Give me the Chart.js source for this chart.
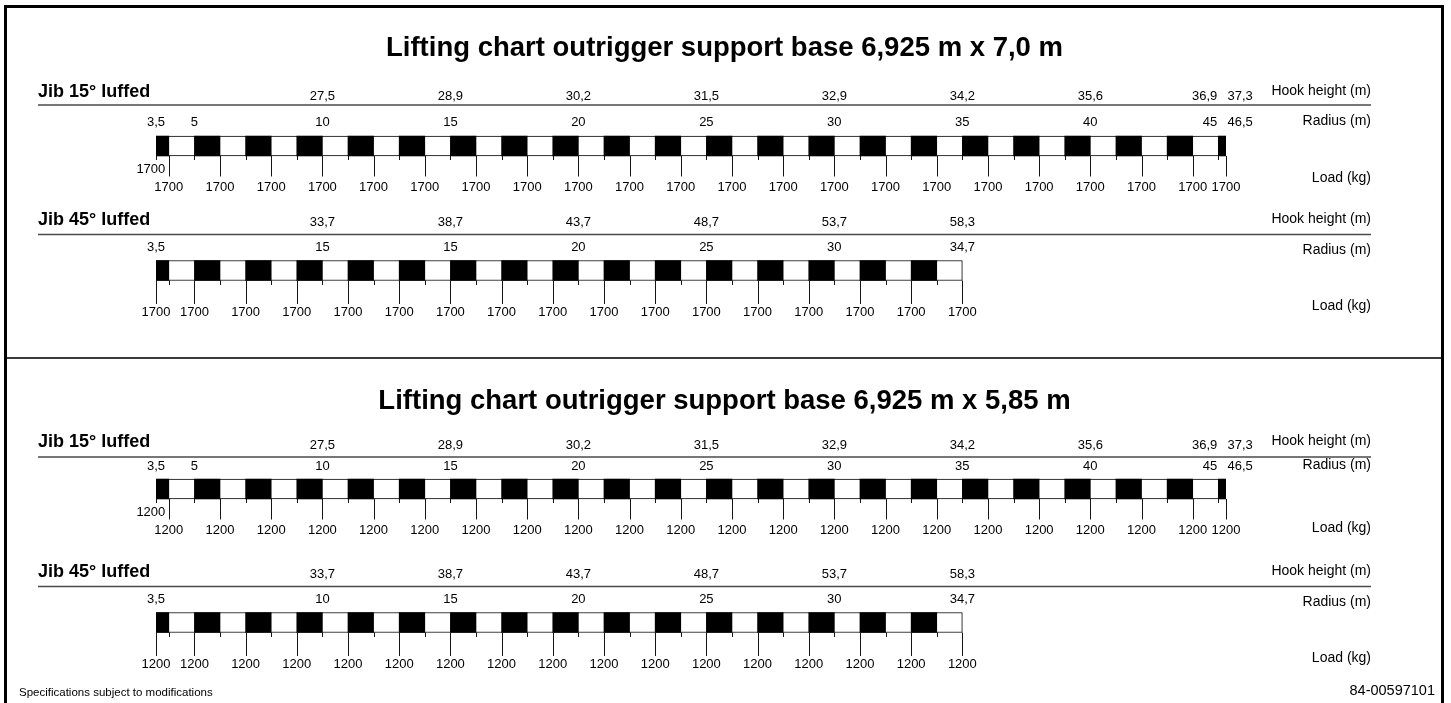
<!DOCTYPE html>
<html>
<head>
<meta charset="utf-8">
<script src="https://cdn.jsdelivr.net/npm/chart.js@4/dist/chart.umd.min.js"></script>
<style>
html,body{margin:0;padding:0;background:#fff;width:1451px;height:703px;overflow:hidden;}
#frame{position:absolute;left:4px;top:5px;width:1434px;height:720px;border:3px solid #000;border-bottom:none;}
#sep{position:absolute;left:7px;top:357px;width:1434px;height:0;border-top:2px solid #3a3a3a;}
canvas.sheet{position:absolute;left:0;}
</style>
</head>
<body>
<div id="frame"></div>
<div id="sep"></div>
<canvas id="c1" class="sheet" width="1451" height="352" style="top:0px"></canvas>
<canvas id="c2" class="sheet" width="1451" height="351" style="top:352px"></canvas>
<script>
// ================= DATA =================
const TITLES = [
  'Lifting chart outrigger support base 6,925 m x 7,0 m',
  'Lifting chart outrigger support base 6,925 m x 5,85 m'
];
const JIB_NAMES = ['Jib 15° luffed', 'Jib 45° luffed'];
const ROW_TITLES = ['Hook height (m)', 'Radius (m)', 'Load (kg)'];
const FOOTER_LEFT = 'Specifications subject to modifications';
const FOOTER_RIGHT = '84-00597101';

// Jib 15° luffed
const JIB15_RADIUS = [3.5, 5, 10, 15, 20, 25, 30, 35, 40, 45, 46.5];
const JIB15_HOOK_AT = [10, 15, 20, 25, 30, 35, 40, 45, 46.5];
const JIB15_HOOK = [27.5, 28.9, 30.2, 31.5, 32.9, 34.2, 35.6, 36.9, 37.3];
const JIB15_LOAD_AT = [3.5, 4, 6, 8, 10, 12, 14, 16, 18, 20, 22, 24, 26, 28, 30, 32, 34, 36, 38, 40, 42, 44, 46.5];
const JIB15_LOAD_BASE_A = [1700, 1700, 1700, 1700, 1700, 1700, 1700, 1700, 1700, 1700, 1700, 1700, 1700, 1700, 1700, 1700, 1700, 1700, 1700, 1700, 1700, 1700, 1700];
const JIB15_LOAD_BASE_B = [1200, 1200, 1200, 1200, 1200, 1200, 1200, 1200, 1200, 1200, 1200, 1200, 1200, 1200, 1200, 1200, 1200, 1200, 1200, 1200, 1200, 1200, 1200];

// Jib 45° luffed
const JIB45_RADIUS = [3.5, 10, 15, 20, 25, 30, 34.7];
const JIB45_RADIUS_TEXT_A = ['3,5', '15', '15', '20', '25', '30', '34,7'];   // as printed
const JIB45_RADIUS_TEXT_B = ['3,5', '10', '15', '20', '25', '30', '34,7'];
const JIB45_HOOK_AT = [10, 15, 20, 25, 30, 34.7];
const JIB45_HOOK = [33.7, 38.7, 43.7, 48.7, 53.7, 58.3];
const JIB45_LOAD_AT = [3.5, 5, 7, 9, 11, 13, 15, 17, 19, 21, 23, 25, 27, 29, 31, 33, 34.7];
const JIB45_LOAD_BASE_A = [1700, 1700, 1700, 1700, 1700, 1700, 1700, 1700, 1700, 1700, 1700, 1700, 1700, 1700, 1700, 1700, 1700];
const JIB45_LOAD_BASE_B = [1200, 1200, 1200, 1200, 1200, 1200, 1200, 1200, 1200, 1200, 1200, 1200, 1200, 1200, 1200, 1200, 1200];

// ================= LAYOUT / STYLE =================
const FONT = '"Liberation Sans", Arial, Helvetica, sans-serif';
const OFF15 = {heading:-54, hook:-49.5, hookLabel:-54.5, rule:-41, radius:-24, radiusLabel:-25,
               half:10, shortTick:14, longTick:30.5, inset:23, load:41, loadLabel:32};
const OFF15_B = Object.assign({}, OFF15, {heading:-47, hook:-44, hookLabel:-48, rule:-32, radius:-23,
               radiusLabel:-24, loadLabel:39});
const OFF45 = {heading:-50, hook:-48, hookLabel:-51, rule:-36, radius:-23, radiusLabel:-20,
               half:10, shortTick:14.5, longTick:33.5, inset:23, load:42, loadLabel:35.5};
const SQUEEZE15 = {from:45, factor:0.2};
const SQUEEZE45 = {from:34, factor:1/0.7};

// custom linear scale: compresses/stretches the last (partial) metre of the schematic ruler
class SchematicScale extends Chart.LinearScale {
  getPixelForValue(v) {
    const s = this.options.squeeze;
    if (s && v > s.from) v = s.from + (v - s.from) * s.factor;
    return super.getPixelForValue(v);
  }
}
SchematicScale.id = 'schematic';
SchematicScale.defaults = {};
Chart.register(SchematicScale);

function fmt(v) { return typeof v === 'number' ? String(v).replace('.', ',') : v; }

function makePanel(kind, loads, radiusText, off) {
  if (kind === 15) {
    return {row:'j15', axis:'x15', name:JIB_NAMES[0], squeeze:SQUEEZE15,
      radiusAt:JIB15_RADIUS, radiusText: radiusText || JIB15_RADIUS.map(fmt),
      hookAt:JIB15_HOOK_AT, hook:JIB15_HOOK, loadAt:JIB15_LOAD_AT, loads,
      insetFirstLoad:true, off: off || OFF15};
  }
  return {row:'j45', axis:'x45', name:JIB_NAMES[1], squeeze:SQUEEZE45,
    radiusAt:JIB45_RADIUS, radiusText: radiusText || JIB45_RADIUS.map(fmt),
    hookAt:JIB45_HOOK_AT, hook:JIB45_HOOK, loadAt:JIB45_LOAD_AT, loads,
    insetFirstLoad:false, off: off || OFF45};
}

// alternating ruler pattern (black metre blocks)
function blackSegments(p) {
  const start = p.loadAt[0], end = p.loadAt[p.loadAt.length - 1], from = p.squeeze.from;
  const segs = [];
  const first = Math.ceil(start);
  if (first > start) segs.push([start, first]);
  for (let k = first + 1; k <= from; k += 2) segs.push([k, (k + 1 > from) ? end : k + 1]);
  return segs;
}

function sheetPlugin(sheet) {
  return {
    id: 'sheetText',
    afterDatasetsDraw(chart) {
      const ctx = chart.ctx;
      ctx.save();
      ctx.fillStyle = '#000';
      ctx.textBaseline = 'middle';
      // title
      ctx.font = 'bold 27.5px ' + FONT;
      ctx.textAlign = 'center';
      ctx.fillText(sheet.title, 724.5, sheet.titleY);

      sheet.panels.forEach((p, pi) => {
        const xs = chart.scales[p.axis];
        const X = r => xs.getPixelForValue(r);
        const C = chart.scales.y.getPixelForValue(pi);
        const o = p.off;
        // heading
        ctx.font = 'bold 18px ' + FONT;
        ctx.textAlign = 'left';
        ctx.fillText(p.name, 38, C + o.heading);
        // rule
        ctx.strokeStyle = '#4a4a4a';
        ctx.lineWidth = 1.5;
        ctx.beginPath();
        ctx.moveTo(38, C + o.rule);
        ctx.lineTo(1371, C + o.rule);
        ctx.stroke();
        // row titles
        ctx.font = '14px ' + FONT;
        ctx.textAlign = 'right';
        ctx.fillText(ROW_TITLES[0], 1371, C + o.hookLabel);
        ctx.fillText(ROW_TITLES[1], 1371, C + o.radiusLabel);
        ctx.fillText(ROW_TITLES[2], 1371, C + o.loadLabel);

        ctx.font = '13px ' + FONT;
        const row = (pos, texts, y) => {
          const n = pos.length;
          const tight = n > 1 && (X(pos[n - 1]) - X(pos[n - 2])) < 30;
          pos.forEach((r, i) => {
            let x = X(r);
            if (tight && i === n - 1) { ctx.textAlign = 'left'; x += 1.5; }
            else if (tight && i === n - 2) { ctx.textAlign = 'right'; x -= 1; }
            else ctx.textAlign = 'center';
            ctx.fillText(texts[i], x, y);
          });
        };
        row(p.hookAt, p.hook.map(fmt), C + o.hook);
        row(p.radiusAt, p.radiusText, C + o.radius);

        // ticks
        const start = p.loadAt[0], end = p.loadAt[p.loadAt.length - 1];
        const longAt = p.insetFirstLoad ? p.loadAt.slice(1) : p.loadAt.slice();
        const grid = [start];
        for (let k = Math.ceil(start); k <= p.squeeze.from; k++) if (k > start) grid.push(k);
        grid.push(end);
        const shortAt = grid.filter(r => longAt.indexOf(r) < 0);
        ctx.strokeStyle = '#151515';
        ctx.lineWidth = 1;
        ctx.beginPath();
        const tick = (r, len) => {
          const x = Math.round(X(r)) + 0.5;
          ctx.moveTo(x, C + o.half);
          ctx.lineTo(x, C + len);
        };
        longAt.forEach(r => tick(r, o.longTick));
        shortAt.forEach(r => tick(r, o.shortTick));
        ctx.stroke();

        // loads
        ctx.textAlign = 'center';
        p.loadAt.forEach((r, i) => {
          if (p.insetFirstLoad && i === 0) {
            ctx.textAlign = 'right';
            ctx.fillText(fmt(p.loads[i]), X(p.loadAt[1]) - 3.5, C + o.inset);
            ctx.textAlign = 'center';
          } else {
            ctx.fillText(fmt(p.loads[i]), X(r), C + o.load);
          }
        });
      });

      if (sheet.footer) {
        ctx.textAlign = 'left';
        ctx.font = '11.5px ' + FONT;
        ctx.fillText(FOOTER_LEFT, 19, sheet.footerY);
        ctx.textAlign = 'right';
        ctx.font = '14.5px ' + FONT;
        ctx.fillText(FOOTER_RIGHT, 1435, sheet.footerY - 2);
      }
      ctx.restore();
    }
  };
}

function buildSheet(canvasId, sheet) {
  const canvas = document.getElementById(canvasId);
  const H = 2 * (sheet.rowCenters[1] - sheet.rowCenters[0]);
  const top = sheet.rowCenters[0] - H / 4;
  const bottom = canvas.height - top - H;
  const datasets = [];
  sheet.panels.forEach(p => {
    datasets.push({
      label: p.name, xAxisID: p.axis, yAxisID: 'y',
      data: blackSegments(p).map(s => ({x: s, y: p.row})),
      backgroundColor: '#000', borderWidth: 0, barThickness: 20, grouped: false, order: 0
    });
    datasets.push({
      label: p.name + ' ruler', xAxisID: p.axis, yAxisID: 'y',
      data: [{x: [p.loadAt[0], p.loadAt[p.loadAt.length - 1]], y: p.row}],
      backgroundColor: '#fff', borderColor: '#000', borderWidth: 1, borderSkipped: false,
      barThickness: 20, grouped: false, order: 1
    });
  });
  const xAxis = sq => ({type: 'schematic', axis: 'x', min: 3.5, max: 45.3, squeeze: sq,
    beginAtZero: false, display: false});
  return new Chart(canvas, {
    type: 'bar',
    data: {labels: ['j15', 'j45'], datasets},
    options: {
      indexAxis: 'y', responsive: false, animation: false, events: [], devicePixelRatio: 1,
      layout: {padding: {left: 156, right: 225, top: top, bottom: bottom}},
      scales: {
        y: {type: 'category', labels: ['j15', 'j45'], offset: true, display: false},
        x15: xAxis(SQUEEZE15),
        x45: xAxis(SQUEEZE45)
      },
      plugins: {legend: {display: false}, tooltip: {enabled: false}}
    },
    plugins: [sheetPlugin(sheet)]
  });
}

buildSheet('c1', {
  title: TITLES[0], titleY: 48, rowCenters: [146, 270.5],
  panels: [makePanel(15, JIB15_LOAD_BASE_A), makePanel(45, JIB45_LOAD_BASE_A, JIB45_RADIUS_TEXT_A)]
});
buildSheet('c2', {
  title: TITLES[1], titleY: 49, rowCenters: [137, 270.5],
  panels: [makePanel(15, JIB15_LOAD_BASE_B, null, OFF15_B), makePanel(45, JIB45_LOAD_BASE_B, JIB45_RADIUS_TEXT_B)],
  footer: true, footerY: 341
});
</script>
</body>
</html>
